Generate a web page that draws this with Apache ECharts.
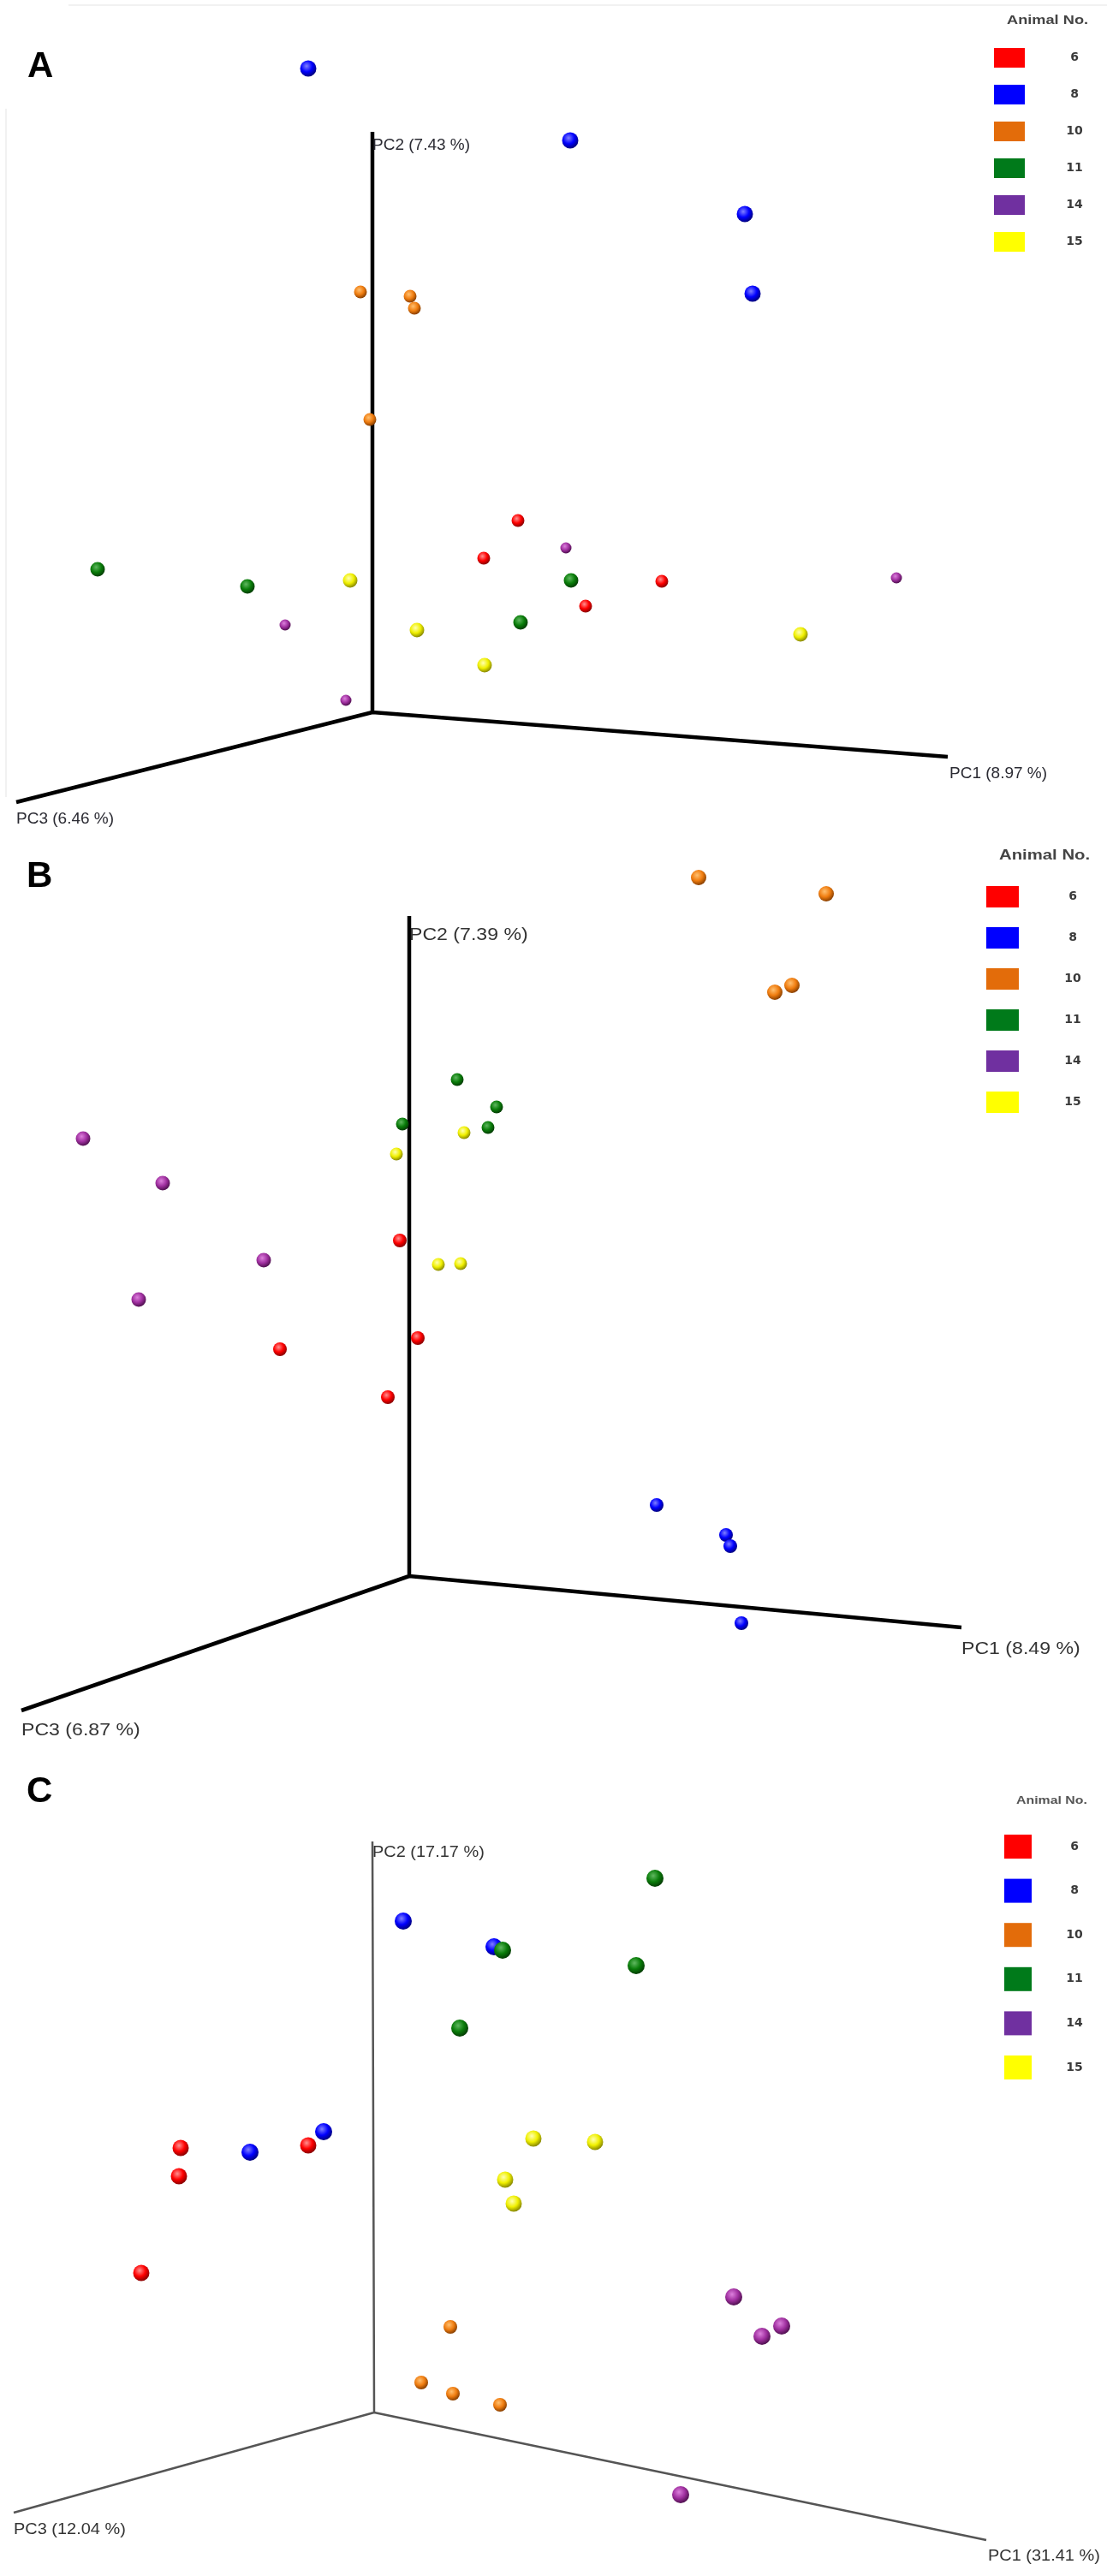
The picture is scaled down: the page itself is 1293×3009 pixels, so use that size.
<!DOCTYPE html>
<html lang="en">
<head>
    <meta charset="UTF-8">
    <title>PCA Animal No.</title>
    <script src="https://cdn.jsdelivr.net/npm/echarts@6/dist/echarts.min.js"></script>
    <style>
        body { margin: 0; background: #fff; }
        #main { width: 1293px; height: 3009px; }
    </style>
</head>
<body>
<div id="main"></div>
<script type="text/javascript">
    // animal groups (legend order)
    var groups = ['6', '8', '10', '11', '14', '15'];

    // panel A: projected PC positions (x right, y down, px within panel)
    var a6  = [[605, 608], [565, 652], [773, 679], [684, 708]];
    var a8  = [[360, 80], [666, 164], [870, 250], [879, 343]];
    var a10 = [[421, 341], [479, 346], [484, 360], [432, 490]];
    var a11 = [[114, 665], [289, 685], [667, 678], [608, 727]];
    var a14 = [[661, 640], [1047, 675], [333, 730], [404, 818]];
    var a15 = [[409, 678], [487, 736], [566, 777], [935, 741]];
    var aAxes = [[435, 154], [435, 832], [1107, 884], [435, 832], [19, 937]];

    // panel B
    var b6  = [[467, 449], [488, 563], [327, 576], [453, 632]];
    var b8  = [[767, 758], [848, 793], [853, 806], [866, 896]];
    var b10 = [[816, 25], [965, 44], [905, 159], [925, 151]];
    var b11 = [[534, 261], [580, 293], [470, 313], [570, 317]];
    var b14 = [[97, 330], [190, 382], [308, 472], [162, 518]];
    var b15 = [[542, 323], [463, 348], [512, 477], [538, 476]];
    var bAxes = [[478, 70], [478, 841], [1123, 901], [478, 841], [25, 998]];

    // panel C
    var c6  = [[211, 459], [360, 456], [209, 492], [165, 605]];
    var c8  = [[471, 194], [577, 224], [378, 440], [292, 464]];
    var c10 = [[526, 668], [492, 733], [529, 746], [584, 759]];
    var c11 = [[765, 144], [587, 228], [743, 246], [537, 319]];
    var c14 = [[857, 633], [913, 667], [890, 679], [795, 864]];
    var c15 = [[623, 448], [695, 452], [590, 496], [600, 524]];
    var cAxes = [[435, 101], [437, 768], [1152, 917], [437, 768], [16, 885]];

    var axisNamesA = ['PC2 (7.43 %)', 'PC1 (8.97 %)', 'PC3 (6.46 %)'];
    var axisNamesB = ['PC2 (7.39 %)', 'PC1 (8.49 %)', 'PC3 (6.87 %)'];
    var axisNamesC = ['PC2 (17.17 %)', 'PC1 (31.41 %)', 'PC3 (12.04 %)'];

    var swatch = {'6': '#ff0000', '8': '#0000ff', '10': '#e36c0a', '11': '#007a1a', '14': '#7030a0', '15': '#ffff00'};
    var sphere = {
        '6':  ['#ff9090', '#ff0000', '#8a0000'],
        '8':  ['#8080ff', '#0000ff', '#000080'],
        '10': ['#ffc070', '#f07d10', '#8a4000'],
        '11': ['#60b860', '#0a7d0a', '#033d03'],
        '14': ['#dc80dc', '#a030a0', '#501050'],
        '15': ['#ffffb0', '#f0f000', '#8a8a00']
    };

    var myChart = echarts.init(document.getElementById('main'));

    var panels = [
        {top: 0, height: 1000, data: [a6, a8, a10, a11, a14, a15], axes: aAxes, sizes: [15, 19, 15, 17, 13, 17],
            axisW: 4.5, axisC: '#000'},
        {top: 1000, height: 1050, data: [b6, b8, b10, b11, b14, b15], axes: bAxes, sizes: [16, 16, 18, 15, 17, 15],
            axisW: 4.5, axisC: '#000'},
        {top: 2050, height: 959, data: [c6, c8, c10, c11, c14, c15], axes: cAxes, sizes: [19, 20, 16, 20, 20, 19],
            axisW: 2.5, axisC: '#555'}
    ];

    function ball(g) {
        var c = sphere[g];
        return {
            type: 'radial', x: 0.4, y: 0.35, r: 0.65,
            colorStops: [{offset: 0, color: c[0]}, {offset: 0.55, color: c[1]}, {offset: 1, color: c[2]}]
        };
    }

    var grids = [], xAxes = [], yAxes = [], series = [];
    panels.forEach(function (p, i) {
        grids.push({left: 0, width: 1293, top: p.top, height: p.height});
        xAxes.push({type: 'value', gridIndex: i, min: 0, max: 1293, show: false});
        yAxes.push({type: 'value', gridIndex: i, min: 0, max: p.height, inverse: true, show: false});
        series.push({
            type: 'line', xAxisIndex: i, yAxisIndex: i, data: p.axes, symbol: 'none', silent: true,
            lineStyle: {color: p.axisC, width: p.axisW}, z: 1
        });
        groups.forEach(function (g, k) {
            series.push({
                name: g, type: 'scatter', xAxisIndex: i, yAxisIndex: i, data: p.data[k],
                symbolSize: p.sizes[k], itemStyle: {color: ball(g), opacity: 1}, z: 3
            });
        });
    });

    function legendFor(top, left, w, h, gap, textW) {
        return {
            orient: 'vertical', left: left, top: top, padding: 0, selectedMode: false,
            itemWidth: w, itemHeight: h, itemGap: gap, icon: 'rect',
            data: groups.map(function (g) { return {name: g, itemStyle: {color: swatch[g]}}; }),
            formatter: '{n|{name}}',
            textStyle: {rich: {n: {width: textW, align: 'center', fontSize: 14, fontWeight: 'bold',
                color: '#3a3a3a', fontFamily: 'DejaVu Sans'}}}
        };
    }

    function txt(x, y, s, size, color, weight, sx) {
        return {type: 'text', x: x, y: y, z: 10, silent: true, scaleX: sx || 1,
            style: {text: s, font: (weight || 'normal') + ' ' + size + 'px Arial', fill: color, verticalAlign: 'middle'}};
    }

    function faint(x1, y1, x2, y2) {
        return {type: 'line', silent: true, z: 0,
            shape: {x1: x1, y1: y1, x2: x2, y2: y2}, style: {stroke: '#ececec', lineWidth: 1.5}};
    }

    var graphics = [
        faint(80, 6, 1293, 6),
        faint(7, 127, 7, 931),
        txt(32, 78, 'A', 42, '#000', 'bold'),
        txt(31, 1024, 'B', 42, '#000', 'bold'),
        txt(31, 2093, 'C', 42, '#000', 'bold'),
        txt(1176, 24, 'Animal No.', 14, '#444', 'bold', 1.3),
        txt(1167, 1000, 'Animal No.', 16, '#444', 'bold', 1.27),
        txt(1187, 2104, 'Animal No.', 12.5, '#555', 'bold', 1.27),
        txt(435, 170, axisNamesA[0], 19, '#2b2b33'),
        txt(1109, 904, axisNamesA[1], 19, '#2b2b33'),
        txt(19, 957, axisNamesA[2], 19, '#2b2b33'),
        txt(478, 1092, axisNamesB[0], 21, '#333', 'normal', 1.1),
        txt(1123, 1926, axisNamesB[1], 21, '#333', 'normal', 1.1),
        txt(25, 2021, axisNamesB[2], 21, '#333', 'normal', 1.1),
        txt(435, 2164, axisNamesC[0], 19, '#333', 'normal', 1.05),
        txt(1154, 2986, axisNamesC[1], 19, '#333', 'normal', 1.05),
        txt(16, 2955, axisNamesC[2], 19, '#333', 'normal', 1.05)
    ];

    myChart.setOption({
        animation: false,
        grid: grids,
        xAxis: xAxes,
        yAxis: yAxes,
        legend: [
            legendFor(56, 1161, 36, 23, 20, 106),
            legendFor(1035, 1152, 38, 25, 23, 116),
            legendFor(2143, 1173, 32, 28, 23.6, 90)
        ],
        graphic: graphics,
        series: series
    });
</script>
</body>
</html>
